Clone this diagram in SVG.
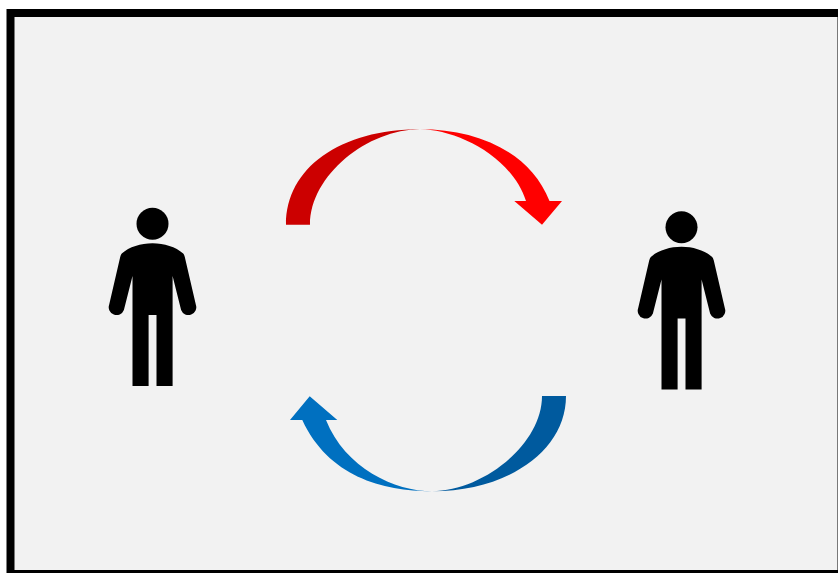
<svg xmlns="http://www.w3.org/2000/svg" xmlns:xlink="http://www.w3.org/1999/xlink" width="838" height="573" viewBox="0 0 838 573">
  <defs>
    <g id="person">
      <circle cx="152.5" cy="223.7" r="16"/>
      <path d="M152.5 243.3C164.2 243.3 175.7 247 183.2 253.5Q184.2 254.8 184.8 257L195.8 304.5A7.6 7.6 0 0 1 181.1 310L172.6 276V386H156.5V315H148.6V386H132.5V276L123.9 310A7.6 7.6 0 0 1 109.2 304.5L120.2 257Q120.8 254.8 121.8 253.5C129.2 247 140.8 243.3 152.5 243.3Z"/>
    </g>
  </defs>
  <style>
    .person { fill: #000000; }
    .red-dark { fill: #cc0000; }
    .red { fill: #ff0000; }
    .blue-dark { fill: #005a9e; }
    .blue { fill: #0070c0; }
  </style>
  <rect x="0" y="0" width="838" height="573" fill="#ffffff"/>
  <rect id="frame" x="10.5" y="13" width="831" height="561" fill="#f2f2f2" stroke="#000000" stroke-width="8"/>
  <g id="person-left" class="person"><use xlink:href="#person" href="#person"/></g>
  <g id="person-right" class="person"><use xlink:href="#person" href="#person" transform="translate(529 3.5)"/></g>
  <g id="connectors">
    <g id="arrow-top">
      <path class="red-dark" d="M286 224.8C286 168 340 129.3 420 129.3C368 129.3 310 175 310 224.8Z"/>
      <path class="red" d="M420 129.3C478 129.3 530 152 549.5 201H562L542 224.8L514.3 201H526C511 155 455 129.3 420 129.3Z"/>
    </g>
    <g id="arrow-bottom">
      <path class="blue-dark" d="M566 396C566 450.6 508 491.3 432 491.3C482 491.3 542 445 542 396Z"/>
      <path class="blue" d="M432 491.3C382 491.3 328 476 302.3 420H290L309.7 396.3L337.3 420H326C345 468 395 491.3 432 491.3Z"/>
    </g>
  </g>
</svg>
